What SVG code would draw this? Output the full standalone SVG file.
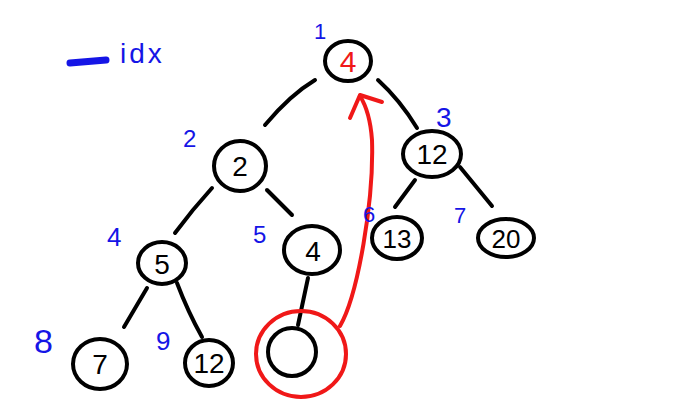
<svg xmlns="http://www.w3.org/2000/svg" width="677" height="415" viewBox="0 0 677 415">
<style>
.node{fill:none;stroke:#000;stroke-width:4}
.val{font-family:"Liberation Sans",Arial,sans-serif;font-size:28px;fill:#000;text-anchor:middle}
.idx{font-family:"Liberation Sans",Arial,sans-serif;font-size:24px;fill:#1515e6}
.edge{fill:none;stroke:#000;stroke-width:4;stroke-linecap:round}
</style>
<rect width="677" height="415" fill="#fff"/>
<g id="legend">
<line x1="70" y1="63" x2="106" y2="60" stroke="#1515e6" stroke-width="7" stroke-linecap="round"/>
<text x="120" y="63" class="idx" style="font-size:28px;letter-spacing:3px">idx</text>
</g>
<g id="connectors">
<path class="edge" d="M315,80 Q290,95 265,125"/>
<path class="edge" d="M378,80 Q400,100 417,128"/>
<path class="edge" d="M212,188 Q192,210 175,233"/>
<path class="edge" d="M267,190 L292,215"/>
<path class="edge" d="M308,278 L298,325"/>
<path class="edge" d="M147,288 L124,327"/>
<path class="edge" d="M177,283 Q188,312 202,337"/>
<path class="edge" d="M415,180 L395,207"/>
<path class="edge" d="M460,167 L492,206"/>
<path fill="none" stroke="#f01818" stroke-width="4" stroke-linecap="round" d="M340,326 C358,295 374,200 372,140 Q370,112 360,96"/>
<path fill="none" stroke="#f01818" stroke-width="4" stroke-linecap="round" stroke-linejoin="round" d="M350,118 L360,95 L382,102"/>
</g>
<g id="n1"><ellipse class="node" cx="348" cy="61" rx="23" ry="20"/><text x="348" y="72" class="val" style="fill:#f01818;font-size:30px">4</text><text x="314" y="39" class="idx" style="font-size:22px">1</text></g>
<g id="n2"><ellipse class="node" cx="240" cy="166" rx="26" ry="25"/><text x="240" y="176" class="val">2</text><text x="183" y="147" class="idx">2</text></g>
<g id="n3"><ellipse class="node" cx="432" cy="154" rx="29" ry="23"/><text x="432" y="164" class="val">12</text><text x="436" y="127" class="idx" style="font-size:28px">3</text></g>
<g id="n4"><ellipse class="node" cx="162" cy="263" rx="24" ry="21"/><text x="162" y="274" class="val">5</text><text x="107" y="246" class="idx" style="font-size:26px">4</text></g>
<g id="n5"><ellipse class="node" cx="312" cy="250" rx="28" ry="24"/><text x="313" y="261" class="val">4</text><text x="253" y="243" class="idx">5</text></g>
<g id="n6"><ellipse class="node" cx="397" cy="238" rx="25" ry="21"/><text x="397" y="248" class="val" style="font-size:26px">13</text><text x="363" y="222" class="idx" style="font-size:22px">6</text></g>
<g id="n7"><ellipse class="node" cx="506" cy="238" rx="28" ry="19"/><text x="506" y="248" class="val" style="font-size:26px">20</text><text x="454" y="223" class="idx" style="font-size:22px">7</text></g>
<g id="n8"><ellipse class="node" cx="100" cy="364" rx="27" ry="25"/><text x="100" y="374" class="val">7</text><text x="34" y="353" class="idx" style="font-size:34px">8</text></g>
<g id="n9"><ellipse class="node" cx="209" cy="363" rx="24" ry="23"/><text x="209" y="373" class="val">12</text><text x="156" y="350" class="idx" style="font-size:26px">9</text></g>
<g id="n10"><ellipse class="node" cx="292" cy="352" rx="24" ry="24"/><ellipse cx="301" cy="354" rx="45" ry="43" fill="none" stroke="#f01818" stroke-width="4"/></g>
</svg>
